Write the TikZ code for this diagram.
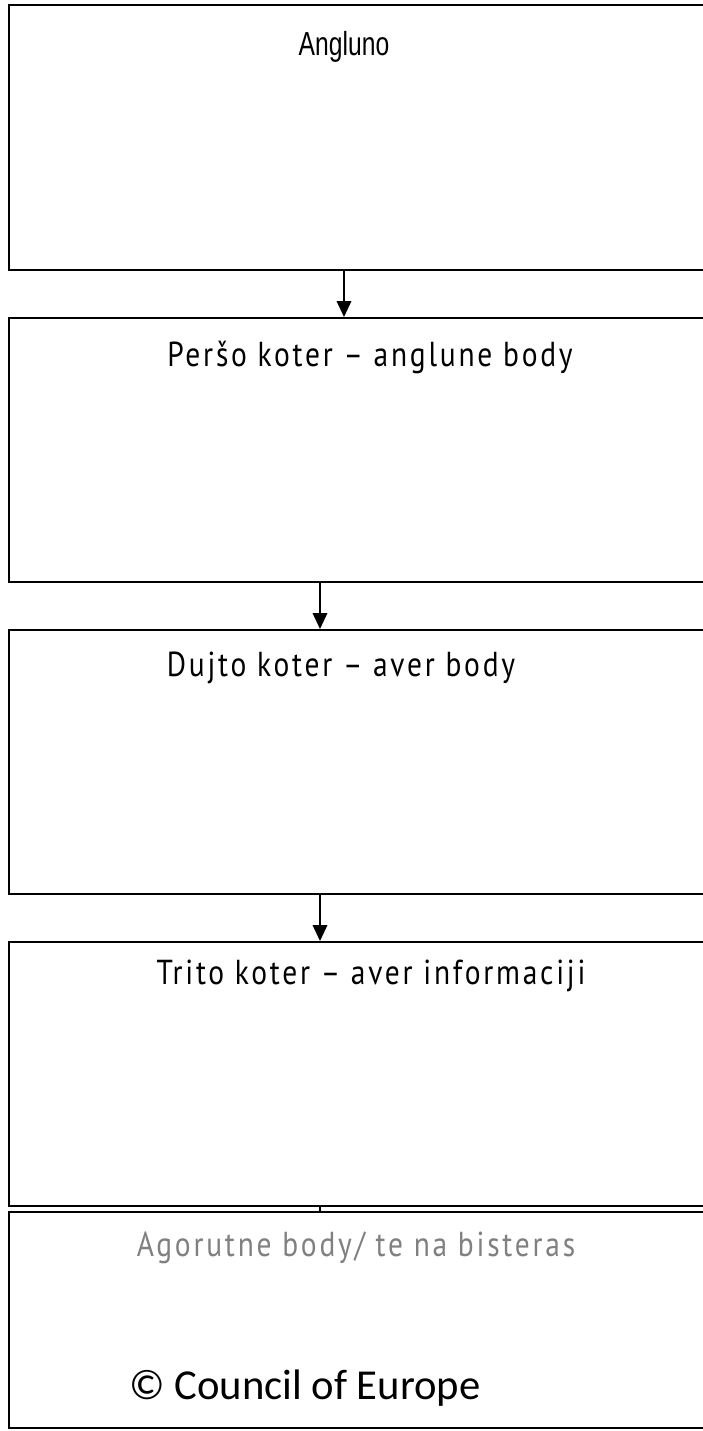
\documentclass[tikz,border=0pt]{standalone}
\usepackage{fontspec}
\setmainfont{Liberation Sans}
\newfontfamily\titlefont[FakeStretch=0.74]{Liberation Sans}
\newfontfamily\stagefont[FakeStretch=0.85,LetterSpace=8]{PT Sans}
\newfontfamily\creditfont{Carlito}
\usetikzlibrary{arrows.meta}
\definecolor{Bline}{HTML}{000000}
\definecolor{Gtext}{HTML}{808080}

\begin{document}
\begin{tikzpicture}[x=0.75pt,y=-0.75pt,line join=miter,
  stagebox/.style={draw=Bline,line width=1.8pt,anchor=north west,inner sep=0pt,
    minimum width=540pt},
  stagetext/.style={anchor=base,inner sep=0pt,font=\stagefont\fontsize{26}{28}\selectfont},
  flow/.style={line width=1.1pt,-{Triangle[length=12pt,width=11pt]}}]
\useasboundingbox (0,0) rectangle (703,1431);
\clip (0,0) rectangle (703,1431);

% ---- the five stages, running off the right edge ----
\foreach \n/\y/\h in {1/4/264.5,2/317/264,3/629/264,4/941/264,5/1211/216}{
  \node[stagebox,minimum height=\h*0.75pt] (b\n) at (8,\y) {};}

% ---- titles ----
\node[anchor=base,inner sep=0pt,font=\titlefont\fontsize{25}{27}\selectfont] (t1) at (344,55) {Angluno};
\node[stagetext] (t2) at (370,366) {Peršo koter – anglune body};
\node[stagetext] (t3) at (341,676) {Dujto koter – aver body};
\node[stagetext] (t4) at (371,984) {Trito koter – aver informaciji};
\node[stagetext,text=Gtext] (t5) at (356,1256) {Agorutne body/ te na bisteras};
\node[anchor=base,inner sep=0pt,font=\creditfont\fontsize{32}{36}\selectfont] (cr) at (305,1399)
  {© Council of Europe};

% ---- connectors ----
\coordinate (x1) at (344,0);
\coordinate (x2) at (320,0);
\draw[flow] (b1.south -| x1) -- (b2.north -| x1);
\draw[flow] (b2.south -| x2) -- (b3.north -| x2);
\draw[flow] (b3.south -| x2) -- (b4.north -| x2);
\draw[line width=1.1pt] (b4.south -| x2) -- (b5.north -| x2);
\end{tikzpicture}
\end{document}
